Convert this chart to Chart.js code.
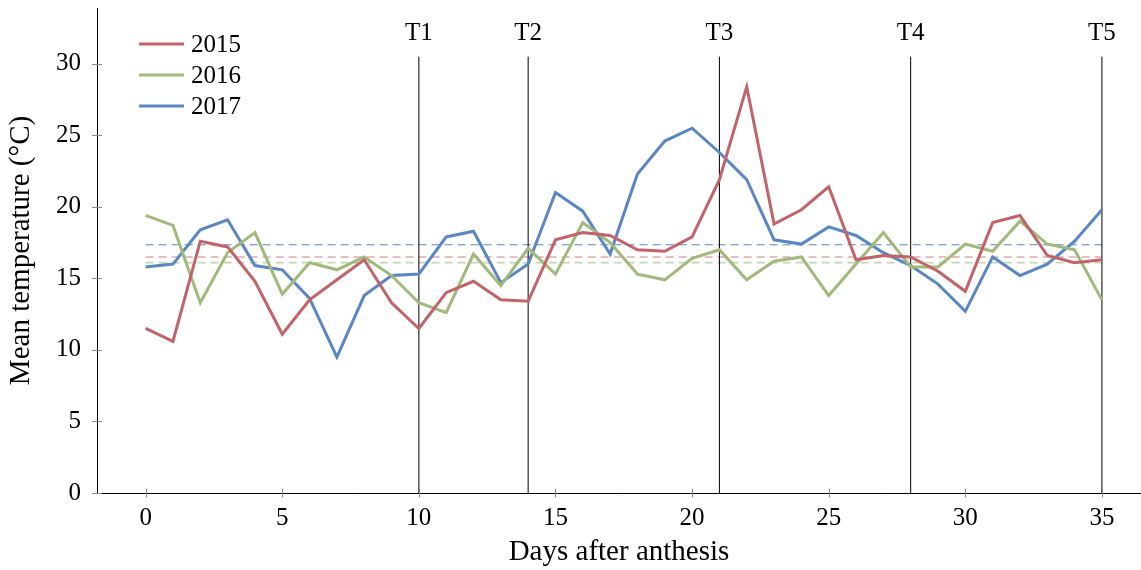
<!DOCTYPE html>
<html>
<head>
<meta charset="utf-8">
<script src="https://cdn.jsdelivr.net/npm/chart.js@4.4.0/dist/chart.umd.min.js"></script>
<style>
  html, body { margin: 0; padding: 0; background: #fff; }
  #wrap { width: 1141px; height: 570px; position: relative; }
</style>
</head>
<body>
<div id="wrap"><canvas id="tempChart"></canvas></div>
<script>
// --- Data ---
const days = [0, 1, 2, 3, 4, 5, 6, 7, 8, 9, 10, 11, 12, 13, 14, 15, 16, 17,
              18, 19, 20, 21, 22, 23, 24, 25, 26, 27, 28, 29, 30, 31, 32, 33, 34, 35];

const temp2015 = [11.5, 10.6, 17.6, 17.2, 14.8, 11.1, 13.5, 14.9, 16.3, 13.3, 11.5, 14.0,
                  14.8, 13.5, 13.4, 17.7, 18.2, 18.0, 17.0, 16.9, 17.9, 21.9, 28.4, 18.8,
                  19.8, 21.4, 16.3, 16.6, 16.5, 15.5, 14.1, 18.9, 19.4, 16.6, 16.1, 16.3];

const temp2016 = [19.4, 18.7, 13.3, 16.8, 18.2, 13.9, 16.1, 15.6, 16.5, 15.2, 13.3, 12.6,
                  16.7, 14.5, 17.1, 15.3, 18.9, 17.5, 15.3, 14.9, 16.4, 17.0, 14.9, 16.2,
                  16.5, 13.8, 16.0, 18.2, 15.8, 15.8, 17.4, 16.9, 19.0, 17.4, 17.0, 13.5];

const temp2017 = [15.8, 16.0, 18.4, 19.1, 15.9, 15.6, 13.6, 9.5, 13.8, 15.2, 15.3, 17.9,
                  18.3, 14.7, 16.0, 21.0, 19.7, 16.7, 22.3, 24.6, 25.5, 23.8, 21.9, 17.7,
                  17.4, 18.6, 18.0, 16.8, 15.9, 14.6, 12.7, 16.5, 15.2, 16.0, 17.6, 19.8];

// Mean temperature of each season (dashed reference lines)
const meanTemps = [16.5, 16.1, 17.35];
const seriesLabels = ['2015', '2016', '2017'];

// Sampling times marked with vertical lines
const sampleDays = [10, 14, 21, 28, 35];
const sampleLabels = ['T1', 'T2', 'T3', 'T4', 'T5'];
const sampleLineTop = 30.5;
const sampleLabelY = 32.1;

const xTicks = [0, 5, 10, 15, 20, 25, 30, 35];
const yTicks = [0, 5, 10, 15, 20, 25, 30];

// --- Styles ---
const serif = "'Liberation Serif', 'DejaVu Serif', serif";
const lineColors = ['#c0646a', '#a1b97b', '#5a87c3'];
const meanColors = ['rgba(192,100,106,0.55)', 'rgba(161,185,123,0.6)', '#5a87c3'];
const meanWidths = [1.6, 1.6, 1];

const toPoints = (vals) => vals.map((v, i) => ({ x: days[i], y: v }));

const seriesSets = [temp2015, temp2016, temp2017].map((vals, k) => ({
    label: seriesLabels[k],
    data: toPoints(vals),
    borderColor: lineColors[k],
    borderWidth: 3,
    pointRadius: 0,
    tension: 0,
    order: 0,
    isSeries: true,
}));

const meanSets = meanTemps.map((m, k) => ({
    label: 'mean ' + seriesLabels[k],
    data: [{ x: days[0], y: m }, { x: days[days.length - 1], y: m }],
    borderColor: meanColors[k],
    borderWidth: meanWidths[k],
    borderDash: [8, 5],
    pointRadius: 0,
    order: 2,
}));

const sampleSets = sampleDays.map((d, k) => ({
    label: sampleLabels[k],
    data: [{ x: d, y: 0 }, { x: d, y: sampleLineTop }],
    borderColor: '#000',
    borderWidth: 1,
    pointRadius: 0,
    order: 1,
}));

// Small tick marks crossing both axes, sample labels and the legend
const decorations = {
    id: 'decorations',
    afterDraw(chart) {
        const { ctx, chartArea, scales: { x, y } } = chart;
        ctx.save();

        ctx.strokeStyle = '#8a8a8a';
        ctx.lineWidth = 1;
        ctx.beginPath();
        xTicks.forEach(v => {
            const px = Math.round(x.getPixelForValue(v)) + 0.5;
            ctx.moveTo(px, chartArea.bottom - 4.5);
            ctx.lineTo(px, chartArea.bottom + 4.5);
        });
        yTicks.forEach(v => {
            const py = Math.round(y.getPixelForValue(v)) + 0.5;
            ctx.moveTo(chartArea.left - 5, py);
            ctx.lineTo(chartArea.left + 5, py);
        });
        ctx.stroke();

        ctx.fillStyle = '#000';
        ctx.font = '25px ' + serif;
        ctx.textAlign = 'center';
        ctx.textBaseline = 'middle';
        sampleDays.forEach((d, k) => {
            ctx.fillText(sampleLabels[k], x.getPixelForValue(d), y.getPixelForValue(sampleLabelY));
        });

        // legend
        const legendX = 139, legendY = 44, rowGap = 31;
        chart.data.datasets.filter(ds => ds.isSeries).forEach((ds, k) => {
            const ly = legendY + k * rowGap;
            ctx.strokeStyle = ds.borderColor;
            ctx.lineWidth = 3;
            ctx.beginPath();
            ctx.moveTo(legendX, ly);
            ctx.lineTo(legendX + 45, ly);
            ctx.stroke();
            ctx.textAlign = 'left';
            ctx.fillText(ds.label, legendX + 52, ly + 1);
        });
        ctx.restore();
    }
};

// keep the plot box fixed: no extra room reserved for edge labels
const fixBox = (size) => (scale) => {
    if (scale.isHorizontal()) scale.height = size; else scale.width = size;
    scale.paddingTop = 0;
    scale.paddingBottom = 0;
    scale.paddingLeft = 0;
    scale.paddingRight = 0;
};

const ctx = document.getElementById('tempChart').getContext('2d');
new Chart(ctx, {
    type: 'line',
    data: { datasets: [...seriesSets, ...sampleSets, ...meanSets] },
    options: {
        responsive: true,
        maintainAspectRatio: false,
        animation: false,
        layout: { padding: { top: 8, right: 0, left: 0, bottom: 0 } },
        plugins: {
            legend: { display: false },
            tooltip: { enabled: false },
        },
        scales: {
            x: {
                type: 'linear',
                min: -1.78,
                max: 36.43,
                afterBuildTicks: (scale) => { scale.ticks = xTicks.map(v => ({ value: v })); },
                afterFit: fixBox(77),
                grid: { display: false, drawTicks: false },
                border: { display: true, color: '#000', width: 1 },
                ticks: { color: '#000', padding: 10, font: { family: serif, size: 25 } },
                title: {
                    display: true,
                    text: 'Days after anthesis',
                    color: '#000',
                    font: { family: serif, size: 29 },
                    padding: { top: 0, bottom: 0 },
                },
            },
            y: {
                type: 'linear',
                min: 0,
                max: 33.9,
                afterBuildTicks: (scale) => { scale.ticks = yTicks.map(v => ({ value: v })); },
                afterFit: fixBox(97),
                grid: { display: false, drawTicks: false },
                border: { display: true, color: '#000', width: 1 },
                ticks: { color: '#000', padding: 16, font: { family: serif, size: 25 } },
                title: {
                    display: true,
                    text: 'Mean temperature (°C)',
                    color: '#000',
                    font: { family: serif, size: 29 },
                    padding: { top: 4, bottom: 0 },
                },
            },
        },
    },
    plugins: [decorations],
});
</script>
</body>
</html>
